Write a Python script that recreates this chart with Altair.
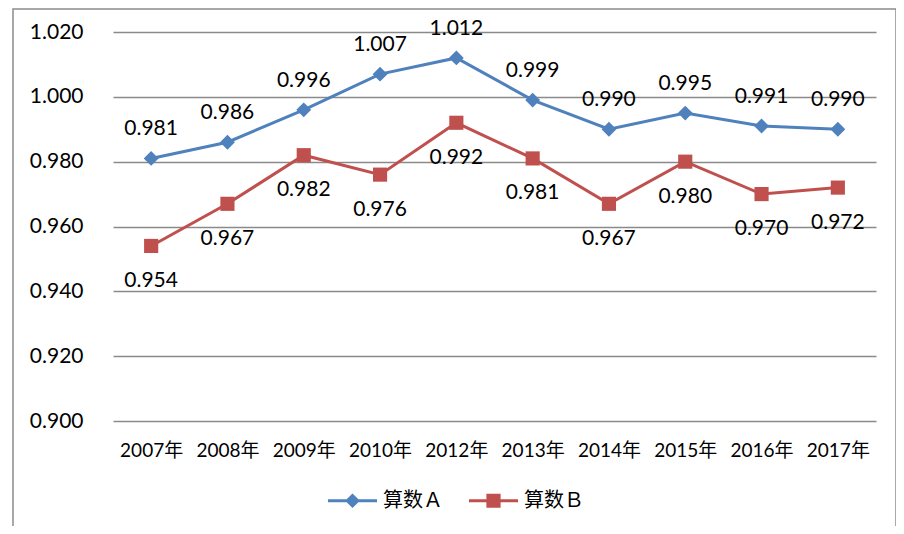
import altair as alt
import pandas as pd

years = ["2007年", "2008年", "2009年", "2010年", "2012年", "2013年", "2014年", "2015年", "2016年", "2017年"]
series_names = ["算数Ａ", "算数Ｂ"]
a_values = [0.981, 0.986, 0.996, 1.007, 1.012, 0.999, 0.990, 0.995, 0.991, 0.990]
b_values = [0.954, 0.967, 0.982, 0.976, 0.992, 0.981, 0.967, 0.980, 0.970, 0.972]
y_ticks = [0.900, 0.920, 0.940, 0.960, 0.980, 1.000, 1.020]

colors = ["#4F81BD", "#C0504D"]

rows = []
for y, v in zip(years, a_values):
    rows.append({"year": y, "series": series_names[0], "value": v})
for y, v in zip(years, b_values):
    rows.append({"year": y, "series": series_names[1], "value": v})
df = pd.DataFrame(rows)

FONT = "Lato, 'Noto Sans CJK SC', sans-serif"

x_enc = alt.X("year:N", sort=years, title=None,
              scale=alt.Scale(type="point", padding=0.5),
              axis=alt.Axis(labelAngle=0, domain=False, ticks=False, labelPadding=20,
                            labelFont=FONT, labelFontSize=19, labelColor="#000000", grid=False))
y_enc = alt.Y("value:Q", title=None,
              scale=alt.Scale(domain=[0.9, 1.02], nice=False, zero=False),
              axis=alt.Axis(values=y_ticks, format=".3f", domain=False, ticks=False, labelPadding=30,
                            labelFont=FONT, labelFontSize=21, labelColor="#000000",
                            grid=True, gridColor="#8a8a8a", gridWidth=1.5))

base = alt.Chart(df)

def sel(i):
    return alt.datum.series == series_names[i]

line_a = base.transform_filter(sel(0)).mark_line(color=colors[0], strokeWidth=3).encode(x=x_enc, y=y_enc)
line_b = base.transform_filter(sel(1)).mark_line(color=colors[1], strokeWidth=3).encode(x=x_enc, y=y_enc)
pts_a = base.transform_filter(sel(0)).mark_point(shape="diamond", filled=True, size=220, opacity=1,
                                                  color=colors[0]).encode(x=x_enc, y=y_enc)
pts_b = base.transform_filter(sel(1)).mark_point(shape="square", filled=True, size=200, opacity=1,
                                                  color=colors[1]).encode(x=x_enc, y=y_enc)
txt_a = base.transform_filter(sel(0)).mark_text(font=FONT, fontSize=21, color="#000000", dy=-29,
                                                 baseline="middle").encode(
    x=x_enc, y=y_enc, text=alt.Text("value:Q", format=".3f"))
txt_b = base.transform_filter(sel(1)).mark_text(font=FONT, fontSize=21, color="#000000", dy=35,
                                                 baseline="middle").encode(
    x=x_enc, y=y_enc, text=alt.Text("value:Q", format=".3f"))

path_a = "M-1,-0.061H1V0.061H-1Z M0,-0.3L0.3,0L0,0.3L-0.3,0Z"
path_b = "M-1,-0.061H1V0.061H-1Z M-0.29,-0.29H0.29V0.29H-0.29Z"

legend_layer = base.mark_point(filled=True, opacity=0).encode(
    x=x_enc, y=y_enc,
    color=alt.Color("series:N", scale=alt.Scale(domain=series_names, range=colors),
                    legend=alt.Legend(title=None)),
    shape=alt.Shape("series:N", scale=alt.Scale(domain=series_names, range=[path_a, path_b]),
                    legend=alt.Legend(title=None, orient="none", legendX=215, legendY=444,
                                      direction="horizontal", symbolSize=2401, symbolStrokeWidth=0,
                                      symbolOpacity=1, labelFont="'Noto Sans CJK SC', sans-serif",
                                      labelFontSize=20, labelColor="#000000", labelOffset=6,
                                      columnPadding=26, padding=0)),
)

border = alt.Chart(alt.Data(values=[{}])).mark_rect(fill=None, stroke="#8c8c8c", strokeWidth=1.5).encode(
    x=alt.value(-100), x2=alt.value(783), y=alt.value(-23), y2=alt.value(700))

chart = alt.layer(border, line_a, line_b, pts_a, pts_b, txt_a, txt_b, legend_layer).properties(
    width=763, height=389,
    autosize=alt.AutoSizeParams(type="none"),
    padding={"left": 105, "top": 24, "right": 20, "bottom": 105},
).configure_view(stroke=None).configure_legend(symbolOpacity=1)

chart.save("out.html", embed_options={"renderer": "svg", "actions": False})
